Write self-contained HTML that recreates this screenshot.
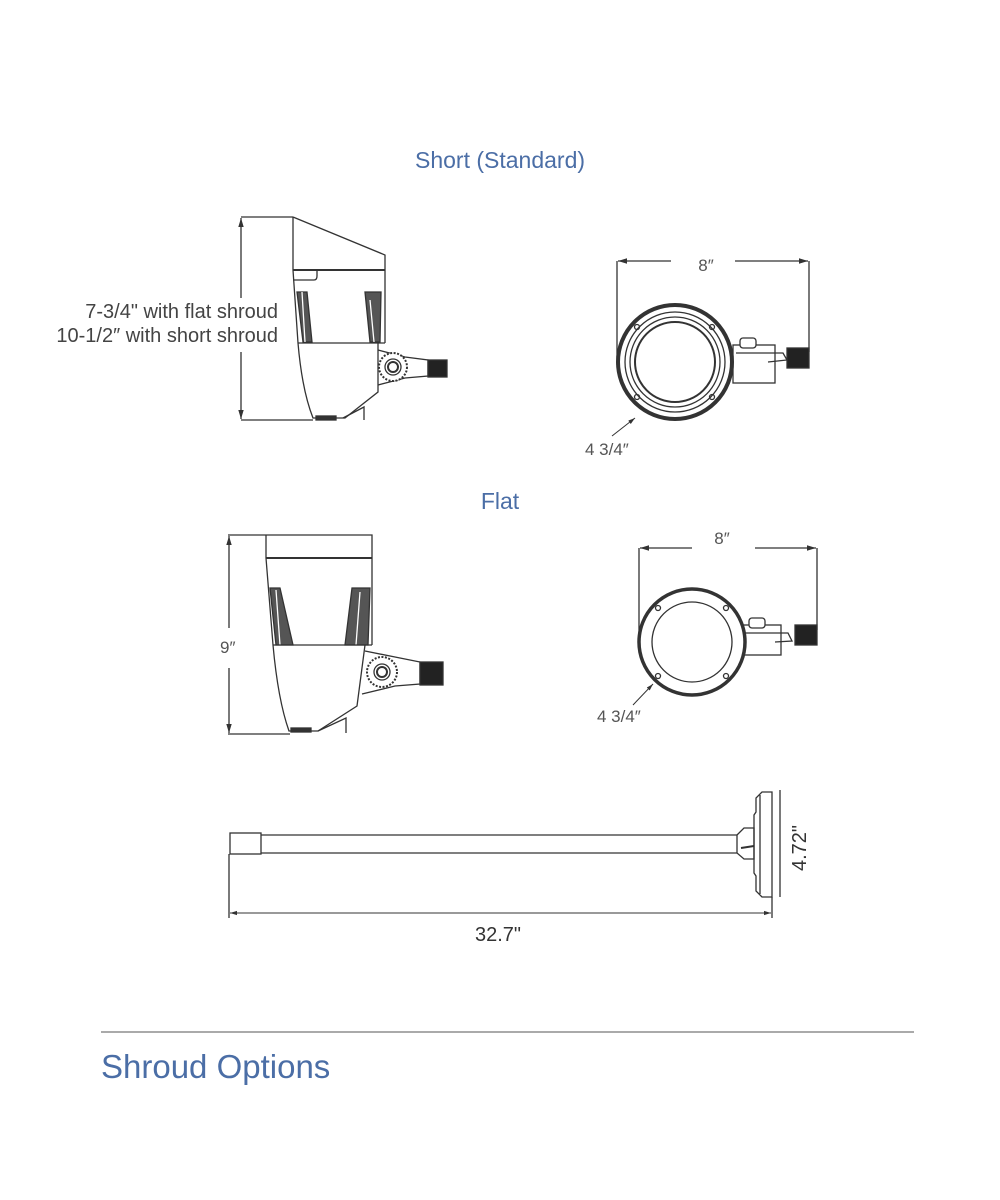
<!DOCTYPE html>
<html><head><meta charset="utf-8"><style>
html,body{margin:0;padding:0;background:#fff;}
svg{display:block;}
text{font-family:"Liberation Sans",sans-serif;}
</style></head><body>
<svg width="1000" height="1200" viewBox="0 0 1000 1200" xmlns="http://www.w3.org/2000/svg">
<defs>
<marker id="ar" viewBox="0 0 10 10" refX="10" refY="5" markerWidth="7" markerHeight="7" orient="auto-start-reverse"><path d="M0,2 L10,5 L0,8 z" fill="#333"/></marker>
</defs>
<g fill="#4b6ea6" text-anchor="middle" font-size="23">
<text x="500" y="168">Short (Standard)</text>
<text x="500" y="509">Flat</text>
</g>
<g fill="#444" font-size="20" text-anchor="end">
<text x="278" y="318">7-3/4" with flat shroud</text>
<text x="278" y="342">10-1/2″ with short shroud</text>
</g>
<g stroke="#333" stroke-width="1.3" fill="none">
<!-- Short side view -->
<line x1="241" y1="217" x2="293" y2="217"/>
<line x1="241" y1="420" x2="313" y2="420"/>
<line x1="241" y1="218" x2="241" y2="298" marker-start="url(#ar)"/>
<line x1="241" y1="352" x2="241" y2="419" marker-end="url(#ar)"/>
<path d="M293,217 L385,255 L385,343"/>
<path d="M293,217 L293,270 L298,343 Q302,390 313,418 L345,418 L378,392 L378,343"/>
<line x1="293" y1="270" x2="385" y2="270" stroke-width="2"/>
<path d="M293,280 L314,280 Q317,280 317,276 L317,270"/>
<path d="M297,292 L307,292 L312,342 L303,342 Z M365,292 L381,292 L380,342 L370,342 Z" fill="#555"/>
<path d="M302,292 L305,342 M370,300 L374,342" stroke="#fff"/>
<line x1="298" y1="343" x2="385" y2="343"/>
<rect x="316" y="416" width="20" height="4" fill="#333"/>
<path d="M343,418 L364,407 L364,420"/>
<path d="M378,350 L405,357 L428,360 L428,376 L405,378 L378,385"/>
<circle cx="393" cy="367" r="14" fill="#fff" stroke-dasharray="2 1.5" stroke-width="2"/>
<circle cx="393" cy="367" r="8" fill="#fff"/>
<circle cx="393" cy="367" r="5" stroke-width="2"/>
<rect x="428" y="360" width="19" height="17" fill="#222"/>
<!-- Short top view -->
<line x1="617" y1="261" x2="617" y2="365"/>
<line x1="809" y1="261" x2="809" y2="352"/>
<line x1="618" y1="261" x2="671" y2="261" marker-start="url(#ar)"/>
<line x1="735" y1="261" x2="808" y2="261" marker-end="url(#ar)"/>
<rect x="733" y="345" width="42" height="38" fill="#fff"/>
<rect x="740" y="338" width="16" height="10" rx="3" fill="#fff"/>
<path d="M736,353 L783,353 L787,360 L768,362"/>
<rect x="787" y="348" width="22" height="20" fill="#222"/>
<circle cx="675" cy="362" r="57" stroke-width="4" fill="#fff"/>
<circle cx="675" cy="362" r="50"/>
<circle cx="675" cy="362" r="45"/>
<circle cx="675" cy="362" r="40" stroke-width="2"/>
<circle cx="637" cy="327" r="2.5"/><circle cx="712" cy="327" r="2.5"/><circle cx="637" cy="397" r="2.5"/><circle cx="712" cy="397" r="2.5"/>
<line x1="612" y1="436" x2="635" y2="418" marker-end="url(#ar)" stroke-width="1"/>
<!-- Flat side view -->
<line x1="228" y1="535" x2="266" y2="535"/>
<line x1="228" y1="734" x2="290" y2="734"/>
<line x1="229" y1="536" x2="229" y2="628" marker-start="url(#ar)"/>
<line x1="229" y1="668" x2="229" y2="733" marker-end="url(#ar)"/>
<path d="M266,535 L372,535 L372,645"/>
<path d="M266,535 L266,558 L273,645 Q278,700 289,731 L318,731 L357,706 L365,645"/>
<line x1="266" y1="558" x2="372" y2="558" stroke-width="2"/>
<path d="M270,588 L280,588 L293,645 L276,645 Z M352,588 L370,588 L368,645 L345,645 Z" fill="#555"/>
<path d="M276,590 L280,645 M360,592 L356,645" stroke="#fff"/>
<line x1="273" y1="645" x2="372" y2="645"/>
<rect x="291" y="728" width="20" height="4" fill="#333"/>
<path d="M318,731 L346,718 L346,733"/>
<path d="M365,651 L395,657 L420,662 L420,684 L395,686 L362,694"/>
<circle cx="382" cy="672" r="15" fill="#fff" stroke-dasharray="2 1.5" stroke-width="2"/>
<circle cx="382" cy="672" r="8" fill="#fff"/>
<circle cx="382" cy="672" r="5" stroke-width="2"/>
<rect x="420" y="662" width="23" height="23" fill="#222"/>
<!-- Flat top view -->
<line x1="639" y1="548" x2="639" y2="640"/>
<line x1="817" y1="548" x2="817" y2="630"/>
<line x1="640" y1="548" x2="692" y2="548" marker-start="url(#ar)"/>
<line x1="755" y1="548" x2="816" y2="548" marker-end="url(#ar)"/>
<rect x="743" y="625" width="38" height="30" fill="#fff"/>
<rect x="749" y="618" width="16" height="10" rx="3" fill="#fff"/>
<path d="M745,633 L788,633 L792,641 L775,642"/>
<rect x="795" y="625" width="22" height="20" fill="#222"/>
<circle cx="692" cy="642" r="53" stroke-width="3.5" fill="#fff"/>
<circle cx="692" cy="642" r="40"/>
<circle cx="658" cy="608" r="2.5"/><circle cx="726" cy="608" r="2.5"/><circle cx="658" cy="676" r="2.5"/><circle cx="726" cy="676" r="2.5"/>
<line x1="633" y1="705" x2="653" y2="684" marker-end="url(#ar)" stroke-width="1"/>
<!-- Pole -->
<rect x="230" y="833" width="31" height="21"/>
<line x1="261" y1="835" x2="737" y2="835"/>
<line x1="261" y1="853" x2="737" y2="853"/>
<path d="M737,835 L744,828 L754,828 L754,859 L744,859 L737,853 Z"/>
<line x1="741" y1="848" x2="754" y2="846" stroke-width="2"/>
<path d="M754,815 L756,812 L756,798 L762,792 L772,792 L772,897 L762,897 L756,891 L756,876 L754,873 Z"/>
<line x1="760" y1="795" x2="760" y2="894"/>
<line x1="780" y1="790" x2="780" y2="897"/>
<line x1="229" y1="854" x2="229" y2="918"/>
<line x1="772" y1="897" x2="772" y2="918"/>
<line x1="230" y1="913" x2="771" y2="913" marker-start="url(#ar)" marker-end="url(#ar)" stroke-width="1"/>
</g>
<g fill="#555" font-size="17">
<text x="706" y="271" text-anchor="middle">8″</text>
<text x="722" y="544" text-anchor="middle">8″</text>
<text x="585" y="455">4 3/4″</text>
<text x="597" y="722">4 3/4″</text>
<text x="220" y="653">9″</text>
</g>
<text x="498" y="941" text-anchor="middle" font-size="20" fill="#333">32.7"</text>
<text transform="translate(806,848) rotate(-90)" text-anchor="middle" font-size="20" fill="#333">4.72"</text>
<line x1="101" y1="1032" x2="914" y2="1032" stroke="#777" stroke-width="1.2"/>
<text x="101" y="1078" font-size="33" fill="#4b6ea6">Shroud Options</text>
</svg>
</body></html>
